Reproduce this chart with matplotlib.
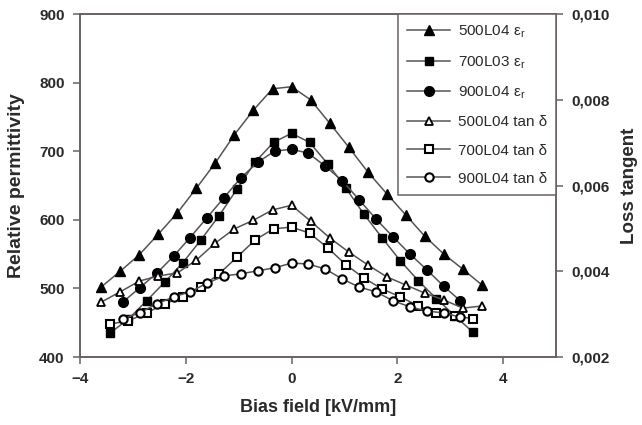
import numpy as np
import matplotlib.pyplot as plt
from matplotlib.ticker import FuncFormatter

plt.rcParams['font.family'] = ['Liberation Sans', 'DejaVu Sans']
plt.rcParams['mathtext.fontset'] = 'custom'
plt.rcParams['mathtext.rm'] = 'Liberation Sans'

# bias field points for each sample (kV/mm)
x_500 = [-3.6, -3.24, -2.88, -2.52, -2.16, -1.8, -1.44, -1.08, -0.72, -0.36, 0,
         0.36, 0.72, 1.08, 1.44, 1.8, 2.16, 2.52, 2.88, 3.24, 3.6]
x_700 = [-3.43, -3.09, -2.74, -2.4, -2.06, -1.71, -1.37, -1.03, -0.69, -0.34, 0,
         0.34, 0.69, 1.03, 1.37, 1.71, 2.06, 2.4, 2.74, 3.09, 3.43]
x_900 = [-3.19, -2.87, -2.55, -2.23, -1.92, -1.6, -1.28, -0.96, -0.64, -0.32, 0,
         0.32, 0.64, 0.96, 1.28, 1.6, 1.92, 2.24, 2.56, 2.88, 3.19]

# relative permittivity
eps_500 = [502, 525, 549, 579, 610, 646, 683, 724, 760, 791, 794,
           775, 741, 706, 670, 638, 607, 576, 550, 528, 505]
eps_700 = [435, 455, 482, 509, 537, 571, 606, 645, 684, 713, 726,
           713, 681, 646, 608, 574, 540, 511, 485, 460, 436]
eps_900 = [480, 501, 522, 547, 574, 603, 632, 661, 684, 700, 703,
           697, 678, 657, 629, 601, 575, 550, 527, 503, 482]

# loss tangent
tan_500 = [0.00328, 0.00352, 0.00377, 0.00389, 0.00396, 0.00426, 0.00466, 0.00499, 0.00519, 0.00543, 0.00554,
           0.00517, 0.00478, 0.00445, 0.00415, 0.00387, 0.00368, 0.00349, 0.00333, 0.00314, 0.00319]
tan_700 = [0.00277, 0.00284, 0.00303, 0.00324, 0.00340, 0.00363, 0.00394, 0.00433, 0.00473, 0.00499, 0.00503,
           0.00489, 0.00454, 0.00415, 0.00384, 0.00359, 0.00340, 0.00319, 0.00303, 0.00296, 0.00289]
tan_900 = [0.00289, 0.00303, 0.00324, 0.00340, 0.00352, 0.00372, 0.00389, 0.00394, 0.00401, 0.00408, 0.00419,
           0.00417, 0.00405, 0.00382, 0.00363, 0.00352, 0.00331, 0.00317, 0.00307, 0.00303, 0.00293]

line_c = '#5a5252'
spine_c = '#6a6262'
text_c = '#2a2a2a'

fig = plt.figure(figsize=(6.42, 4.25), dpi=100)
ax = fig.add_axes([0.1246, 0.16, 0.7414, 0.807])
ax2 = ax.twinx()

h1, = ax.plot(x_500, eps_500, '-^', color=line_c, lw=1.1, ms=7, mfc='k', mec='k', label='500L04 ε$_\\mathregular{r}$')
h2, = ax.plot(x_700, eps_700, '-s', color=line_c, lw=1.1, ms=6, mfc='k', mec='k', label='700L03 ε$_\\mathregular{r}$')
h3, = ax.plot(x_900, eps_900, '-o', color=line_c, lw=1.1, ms=7, mfc='k', mec='k', label='900L04 ε$_\\mathregular{r}$')
h4, = ax2.plot(x_500, tan_500, '-^', color=line_c, lw=1.1, ms=6, mfc='white', mec='k', mew=1.3, label='500L04 tan δ')
h5, = ax2.plot(x_700, tan_700, '-s', color=line_c, lw=1.1, ms=5.5, mfc='white', mec='k', mew=1.5, label='700L04 tan δ')
h6, = ax2.plot(x_900, tan_900, '-o', color=line_c, lw=1.1, ms=6, mfc='white', mec='k', mew=1.5, label='900L04 tan δ')

ax.set_xlim(-4, 5)
ax.set_ylim(400, 900)
ax.set_xticks([-4, -2, 0, 2, 4])
ax.set_yticks([400, 500, 600, 700, 800, 900])
ax2.set_ylim(0.002, 0.010)
ax2.set_yticks([0.002, 0.004, 0.006, 0.008, 0.010])
ax2.yaxis.set_major_formatter(FuncFormatter(lambda v, p: f'{v:.3f}'.replace('.', ',')))

for a in (ax, ax2):
    for s in a.spines.values():
        s.set_color(spine_c)
        s.set_linewidth(1.2)
    a.tick_params(direction='out', length=5, width=1.1, color=spine_c, labelsize=11,
                  labelcolor=text_c, pad=6)
    for lab in a.get_xticklabels() + a.get_yticklabels():
        lab.set_fontweight('bold')

ax.set_xlabel('Bias field [kV/mm]', fontsize=13, fontweight='bold', color=text_c, labelpad=9)
ax.set_ylabel('Relative permittivity', fontsize=14, fontweight='bold', color=text_c, labelpad=10)
ax2.set_ylabel('Loss tangent', fontsize=13.5, fontweight='bold', color=text_c, labelpad=8)

leg = ax2.legend(handles=[h1, h2, h3, h4, h5, h6], loc='upper right', borderaxespad=0,
                 fontsize=11, handlelength=2.8, handletextpad=0.5, labelspacing=0.92,
                 fancybox=False, framealpha=1, edgecolor=spine_c, borderpad=0.6)
leg.get_frame().set_linewidth(1.1)
for t in leg.get_texts():
    t.set_color(text_c)

fig.savefig('out.png', dpi=100)
